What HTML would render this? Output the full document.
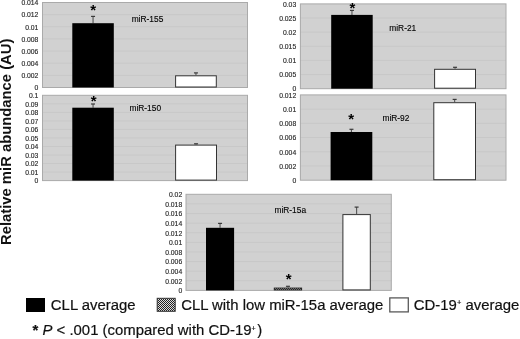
<!DOCTYPE html>
<html><head><meta charset="utf-8"><style>
html,body{margin:0;padding:0;background:#fff;}
#c{position:relative;width:520px;height:339px;overflow:hidden;background:#fff;}
svg{position:absolute;left:0;top:0;will-change:transform;}
svg text{font-family:"Liberation Sans",sans-serif;}
.tk{font-size:6.8px;fill:#2a2a2a;stroke:#2a2a2a;stroke-width:0.15px;}
.ti{font-size:8.4px;fill:#000;stroke:#000;stroke-width:0.12px;}
.as{font-size:15.0px;font-weight:bold;fill:#000;}
.lg{font-size:14.9px;fill:#111;stroke:#111;stroke-width:0.2px;}
.yt{font-size:14.8px;font-weight:bold;fill:#111;}
</style></head><body><div id="c">
<svg width="520" height="339" viewBox="0 0 520 339">
<defs><pattern id="chk" width="2" height="2" patternUnits="userSpaceOnUse"><rect width="2" height="2" fill="#ddd"/><rect width="1" height="1" fill="#222"/><rect x="1" y="1" width="1" height="1" fill="#222"/></pattern></defs>
<rect x="42.5" y="2.5" width="205" height="85" fill="#d1d1d1"/>
<line x1="42.5" x2="247.5" y1="14.64" y2="14.64" stroke="#c8c8c8" stroke-width="1"/>
<line x1="42.5" x2="247.5" y1="26.79" y2="26.79" stroke="#c8c8c8" stroke-width="1"/>
<line x1="42.5" x2="247.5" y1="38.93" y2="38.93" stroke="#c8c8c8" stroke-width="1"/>
<line x1="42.5" x2="247.5" y1="51.07" y2="51.07" stroke="#c8c8c8" stroke-width="1"/>
<line x1="42.5" x2="247.5" y1="63.21" y2="63.21" stroke="#c8c8c8" stroke-width="1"/>
<line x1="42.5" x2="247.5" y1="75.36" y2="75.36" stroke="#c8c8c8" stroke-width="1"/>
<rect x="42.5" y="2.5" width="205" height="85" fill="none" stroke="#aaaaaa" stroke-width="1"/>
<text x="38.4" y="90.28" text-anchor="end" class="tk">0</text>
<text x="38.4" y="78.14" text-anchor="end" class="tk">0.002</text>
<text x="38.4" y="65.99" text-anchor="end" class="tk">0.004</text>
<text x="38.4" y="53.85" text-anchor="end" class="tk">0.006</text>
<text x="38.4" y="41.71" text-anchor="end" class="tk">0.008</text>
<text x="38.4" y="29.57" text-anchor="end" class="tk">0.01</text>
<text x="38.4" y="17.42" text-anchor="end" class="tk">0.012</text>
<text x="38.4" y="5.28" text-anchor="end" class="tk">0.014</text>
<text x="131.65" y="22.02" class="ti">miR-155</text>
<line x1="93.05" x2="93.05" y1="16.4" y2="23.2" stroke="#555" stroke-width="1.1"/>
<line x1="91.05" x2="95.05" y1="16.4" y2="16.4" stroke="#3a3a3a" stroke-width="1.2"/>
<rect x="72.3" y="23.2" width="41.5" height="64.3" fill="#000"/>
<text x="93.19" y="15.43" text-anchor="middle" class="as">*</text>
<line x1="195.95" x2="195.95" y1="72.9" y2="75.3" stroke="#555" stroke-width="1.1"/>
<line x1="193.95" x2="197.95" y1="72.9" y2="72.9" stroke="#3a3a3a" stroke-width="1.2"/>
<rect x="175.6" y="75.8" width="40.7" height="11.2" fill="#fff" stroke="#333" stroke-width="1"/>
<rect x="42.5" y="95.3" width="205" height="85.3" fill="#d1d1d1"/>
<line x1="42.5" x2="247.5" y1="103.83" y2="103.83" stroke="#c8c8c8" stroke-width="1"/>
<line x1="42.5" x2="247.5" y1="112.36" y2="112.36" stroke="#c8c8c8" stroke-width="1"/>
<line x1="42.5" x2="247.5" y1="120.89" y2="120.89" stroke="#c8c8c8" stroke-width="1"/>
<line x1="42.5" x2="247.5" y1="129.42" y2="129.42" stroke="#c8c8c8" stroke-width="1"/>
<line x1="42.5" x2="247.5" y1="137.95" y2="137.95" stroke="#c8c8c8" stroke-width="1"/>
<line x1="42.5" x2="247.5" y1="146.48" y2="146.48" stroke="#c8c8c8" stroke-width="1"/>
<line x1="42.5" x2="247.5" y1="155.01" y2="155.01" stroke="#c8c8c8" stroke-width="1"/>
<line x1="42.5" x2="247.5" y1="163.54" y2="163.54" stroke="#c8c8c8" stroke-width="1"/>
<line x1="42.5" x2="247.5" y1="172.07" y2="172.07" stroke="#c8c8c8" stroke-width="1"/>
<rect x="42.5" y="95.3" width="205" height="85.3" fill="none" stroke="#aaaaaa" stroke-width="1"/>
<text x="38.4" y="183.38" text-anchor="end" class="tk">0</text>
<text x="38.4" y="174.85" text-anchor="end" class="tk">0.01</text>
<text x="38.4" y="166.32" text-anchor="end" class="tk">0.02</text>
<text x="38.4" y="157.79" text-anchor="end" class="tk">0.03</text>
<text x="38.4" y="149.26" text-anchor="end" class="tk">0.04</text>
<text x="38.4" y="140.73" text-anchor="end" class="tk">0.05</text>
<text x="38.4" y="132.2" text-anchor="end" class="tk">0.06</text>
<text x="38.4" y="123.67" text-anchor="end" class="tk">0.07</text>
<text x="38.4" y="115.14" text-anchor="end" class="tk">0.08</text>
<text x="38.4" y="106.61" text-anchor="end" class="tk">0.09</text>
<text x="38.4" y="98.08" text-anchor="end" class="tk">0.1</text>
<text x="129.45" y="110.72" class="ti">miR-150</text>
<line x1="93.05" x2="93.05" y1="104" y2="107.7" stroke="#555" stroke-width="1.1"/>
<line x1="91.05" x2="95.05" y1="104" y2="104" stroke="#3a3a3a" stroke-width="1.2"/>
<rect x="72.3" y="107.7" width="41.5" height="72.9" fill="#000"/>
<text x="93.58" y="106.23" text-anchor="middle" class="as">*</text>
<line x1="196.05" x2="196.05" y1="143.8" y2="144.6" stroke="#555" stroke-width="1.1"/>
<line x1="194.05" x2="198.05" y1="143.8" y2="143.8" stroke="#3a3a3a" stroke-width="1.2"/>
<rect x="175.6" y="145.1" width="40.9" height="35" fill="#fff" stroke="#333" stroke-width="1"/>
<rect x="300.4" y="3.9" width="205.6" height="84.8" fill="#d1d1d1"/>
<line x1="300.4" x2="506" y1="18.03" y2="18.03" stroke="#c8c8c8" stroke-width="1"/>
<line x1="300.4" x2="506" y1="32.17" y2="32.17" stroke="#c8c8c8" stroke-width="1"/>
<line x1="300.4" x2="506" y1="46.3" y2="46.3" stroke="#c8c8c8" stroke-width="1"/>
<line x1="300.4" x2="506" y1="60.43" y2="60.43" stroke="#c8c8c8" stroke-width="1"/>
<line x1="300.4" x2="506" y1="74.57" y2="74.57" stroke="#c8c8c8" stroke-width="1"/>
<rect x="300.4" y="3.9" width="205.6" height="84.8" fill="none" stroke="#aaaaaa" stroke-width="1"/>
<text x="296.2" y="91.48" text-anchor="end" class="tk">0</text>
<text x="296.2" y="77.35" text-anchor="end" class="tk">0.005</text>
<text x="296.2" y="63.21" text-anchor="end" class="tk">0.01</text>
<text x="296.2" y="49.08" text-anchor="end" class="tk">0.015</text>
<text x="296.2" y="34.95" text-anchor="end" class="tk">0.02</text>
<text x="296.2" y="20.81" text-anchor="end" class="tk">0.025</text>
<text x="296.2" y="6.68" text-anchor="end" class="tk">0.03</text>
<text x="389.25" y="31.32" class="ti">miR-21</text>
<line x1="351.95" x2="351.95" y1="10.4" y2="14.9" stroke="#555" stroke-width="1.1"/>
<line x1="349.95" x2="353.95" y1="10.4" y2="10.4" stroke="#3a3a3a" stroke-width="1.2"/>
<rect x="331.2" y="14.9" width="41.5" height="73.8" fill="#000"/>
<text x="352.49" y="12.83" text-anchor="middle" class="as">*</text>
<line x1="455.05" x2="455.05" y1="67.3" y2="68.8" stroke="#555" stroke-width="1.1"/>
<line x1="453.05" x2="457.05" y1="67.3" y2="67.3" stroke="#3a3a3a" stroke-width="1.2"/>
<rect x="434.6" y="69.3" width="40.9" height="18.9" fill="#fff" stroke="#333" stroke-width="1"/>
<rect x="300.4" y="94.9" width="205.6" height="85.3" fill="#d1d1d1"/>
<line x1="300.4" x2="506" y1="109.12" y2="109.12" stroke="#c8c8c8" stroke-width="1"/>
<line x1="300.4" x2="506" y1="123.33" y2="123.33" stroke="#c8c8c8" stroke-width="1"/>
<line x1="300.4" x2="506" y1="137.55" y2="137.55" stroke="#c8c8c8" stroke-width="1"/>
<line x1="300.4" x2="506" y1="151.77" y2="151.77" stroke="#c8c8c8" stroke-width="1"/>
<line x1="300.4" x2="506" y1="165.98" y2="165.98" stroke="#c8c8c8" stroke-width="1"/>
<rect x="300.4" y="94.9" width="205.6" height="85.3" fill="none" stroke="#aaaaaa" stroke-width="1"/>
<text x="296.2" y="182.98" text-anchor="end" class="tk">0</text>
<text x="296.2" y="168.76" text-anchor="end" class="tk">0.002</text>
<text x="296.2" y="154.55" text-anchor="end" class="tk">0.004</text>
<text x="296.2" y="140.33" text-anchor="end" class="tk">0.006</text>
<text x="296.2" y="126.11" text-anchor="end" class="tk">0.008</text>
<text x="296.2" y="111.9" text-anchor="end" class="tk">0.01</text>
<text x="296.2" y="97.68" text-anchor="end" class="tk">0.012</text>
<text x="382.45" y="120.82" class="ti">miR-92</text>
<line x1="351.45" x2="351.45" y1="129.3" y2="132" stroke="#555" stroke-width="1.1"/>
<line x1="349.45" x2="353.45" y1="129.3" y2="129.3" stroke="#3a3a3a" stroke-width="1.2"/>
<rect x="330.6" y="132" width="41.7" height="48.2" fill="#000"/>
<text x="351.29" y="124.03" text-anchor="middle" class="as">*</text>
<line x1="454.65" x2="454.65" y1="99.4" y2="102.2" stroke="#555" stroke-width="1.1"/>
<line x1="452.65" x2="456.65" y1="99.4" y2="99.4" stroke="#3a3a3a" stroke-width="1.2"/>
<rect x="433.8" y="102.7" width="41.7" height="77" fill="#fff" stroke="#333" stroke-width="1"/>
<rect x="186" y="194.3" width="205.3" height="96.1" fill="#d1d1d1"/>
<line x1="186" x2="391.3" y1="203.91" y2="203.91" stroke="#c8c8c8" stroke-width="1"/>
<line x1="186" x2="391.3" y1="213.52" y2="213.52" stroke="#c8c8c8" stroke-width="1"/>
<line x1="186" x2="391.3" y1="223.13" y2="223.13" stroke="#c8c8c8" stroke-width="1"/>
<line x1="186" x2="391.3" y1="232.74" y2="232.74" stroke="#c8c8c8" stroke-width="1"/>
<line x1="186" x2="391.3" y1="242.35" y2="242.35" stroke="#c8c8c8" stroke-width="1"/>
<line x1="186" x2="391.3" y1="251.96" y2="251.96" stroke="#c8c8c8" stroke-width="1"/>
<line x1="186" x2="391.3" y1="261.57" y2="261.57" stroke="#c8c8c8" stroke-width="1"/>
<line x1="186" x2="391.3" y1="271.18" y2="271.18" stroke="#c8c8c8" stroke-width="1"/>
<line x1="186" x2="391.3" y1="280.79" y2="280.79" stroke="#c8c8c8" stroke-width="1"/>
<rect x="186" y="194.3" width="205.3" height="96.1" fill="none" stroke="#aaaaaa" stroke-width="1"/>
<text x="182.2" y="293.18" text-anchor="end" class="tk">0</text>
<text x="182.2" y="283.57" text-anchor="end" class="tk">0.002</text>
<text x="182.2" y="273.96" text-anchor="end" class="tk">0.004</text>
<text x="182.2" y="264.35" text-anchor="end" class="tk">0.006</text>
<text x="182.2" y="254.74" text-anchor="end" class="tk">0.008</text>
<text x="182.2" y="245.13" text-anchor="end" class="tk">0.01</text>
<text x="182.2" y="235.52" text-anchor="end" class="tk">0.012</text>
<text x="182.2" y="225.91" text-anchor="end" class="tk">0.014</text>
<text x="182.2" y="216.3" text-anchor="end" class="tk">0.016</text>
<text x="182.2" y="206.69" text-anchor="end" class="tk">0.018</text>
<text x="182.2" y="197.08" text-anchor="end" class="tk">0.02</text>
<text x="274.45" y="212.72" class="ti">miR-15a</text>
<line x1="220.05" x2="220.05" y1="223.4" y2="227.8" stroke="#555" stroke-width="1.1"/>
<line x1="218.05" x2="222.05" y1="223.4" y2="223.4" stroke="#3a3a3a" stroke-width="1.2"/>
<rect x="206" y="227.8" width="28.1" height="62.6" fill="#000"/>
<line x1="287.95" x2="287.95" y1="286.3" y2="287.6" stroke="#555" stroke-width="1.1"/>
<line x1="285.95" x2="289.95" y1="286.3" y2="286.3" stroke="#3a3a3a" stroke-width="1.2"/>
<rect x="274.3" y="288.1" width="27.3" height="1.8" fill="url(#chk)" stroke="#222" stroke-width="1"/>
<text x="288.69" y="284.13" text-anchor="middle" class="as">*</text>
<line x1="356.6" x2="356.6" y1="207.1" y2="214.1" stroke="#555" stroke-width="1.1"/>
<line x1="354.6" x2="358.6" y1="207.1" y2="207.1" stroke="#3a3a3a" stroke-width="1.2"/>
<rect x="342.9" y="214.6" width="27.4" height="75.3" fill="#fff" stroke="#333" stroke-width="1"/>
<text class="yt" transform="translate(10.9,245) rotate(-90)">Relative miR abundance (AU)</text>
<rect x="26" y="298" width="19" height="14" fill="#000"/>
<text class="lg" x="50.86" y="310.4">CLL average</text>
<rect x="157.2" y="298.3" width="18" height="13" fill="url(#chk)" stroke="#333" stroke-width="1"/>
<text class="lg" x="181.16" y="310.4">CLL with low miR-15a average</text>
<rect x="389.8" y="297.9" width="18.5" height="14" fill="#fff" stroke="#5a5a5a" stroke-width="1.3"/>
<text class="lg" x="413.86" y="310.4">CD-19<tspan font-size="7.5" dy="-5">+</tspan><tspan dy="5"> average</tspan></text>
<text class="lg" x="32.6" y="335.3"><tspan font-weight="bold">*</tspan> <tspan font-style="italic">P</tspan> &lt; .001 (compared with CD-19<tspan font-size="7" dy="-4.2">+</tspan><tspan dy="4.2" dx="1.6">)</tspan></text>
</svg>
</div></body></html>
